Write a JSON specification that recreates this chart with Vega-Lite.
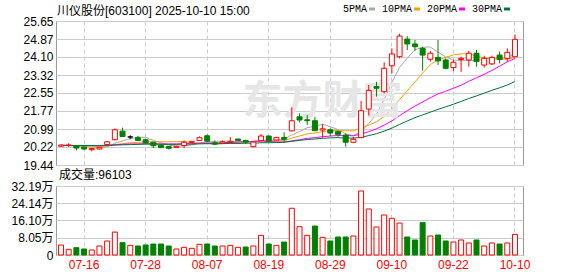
{
  "$schema": "https://vega.github.io/schema/vega-lite/v6.json",
  "padding": {"left": 5, "top": 4, "right": 0, "bottom": 0},
  "background": "white",
  "config": {
    "font": "Liberation Sans, Noto Sans CJK SC",
    "view": {"stroke": "#999999", "strokeWidth": 1},
    "axis": {"labelFont": "Liberation Sans", "labelFontSize": 12, "labelColor": "#000000", "gridColor": "#cccccc", "gridWidth": 1, "domain": false, "ticks": false, "title": null, "labelPadding": 3, "labelOverlap": false},
    "concat": {"spacing": -4}
  },
  "datasets": {
    "k": [
      {"d":"07-11","o":20.25,"h":20.33,"l":20.22,"c":20.30,"v":46600,"vd":"up","m5":20.29,"m10":20.28,"m20":20.29,"m30":20.28},
      {"d":"07-14","o":20.28,"h":20.38,"l":20.22,"c":20.30,"v":26400,"vd":"up","m5":20.29,"m10":20.28,"m20":20.29,"m30":20.28},
      {"d":"07-15","o":20.26,"h":20.28,"l":20.07,"c":20.17,"v":34200,"vd":"down","m5":20.26,"m10":20.27,"m20":20.28,"m30":20.28},
      {"d":"07-16","o":20.21,"h":20.23,"l":20.10,"c":20.13,"v":28000,"vd":"down","m5":20.24,"m10":20.26,"m20":20.28,"m30":20.28},
      {"d":"07-17","o":20.10,"h":20.17,"l":20.03,"c":20.15,"v":23300,"vd":"up","m5":20.21,"m10":20.25,"m20":20.28,"m30":20.28},
      {"d":"07-18","o":20.13,"h":20.22,"l":20.10,"c":20.20,"v":42000,"vd":"up","m5":20.19,"m10":20.24,"m20":20.27,"m30":20.28},
      {"d":"07-21","o":20.32,"h":20.47,"l":20.30,"c":20.44,"v":65300,"vd":"up","m5":20.22,"m10":20.26,"m20":20.28,"m30":20.29},
      {"d":"07-22","o":20.53,"h":21.02,"l":20.50,"c":20.96,"v":107000,"vd":"up","m5":20.38,"m10":20.32,"m20":20.31,"m30":20.30},
      {"d":"07-23","o":20.90,"h":21.05,"l":20.65,"c":20.67,"v":57500,"vd":"down","m5":20.48,"m10":20.36,"m20":20.33,"m30":20.31},
      {"d":"07-24","o":20.65,"h":20.72,"l":20.55,"c":20.65,"v":45000,"vd":"up","m5":20.58,"m10":20.40,"m20":20.35,"m30":20.32},
      {"d":"07-25","o":20.62,"h":20.70,"l":20.48,"c":20.50,"v":42000,"vd":"down","m5":20.64,"m10":20.42,"m20":20.35,"m30":20.33},
      {"d":"07-28","o":20.53,"h":20.58,"l":20.37,"c":20.39,"v":46600,"vd":"down","m5":20.63,"m10":20.43,"m20":20.36,"m30":20.34},
      {"d":"07-29","o":20.42,"h":20.44,"l":20.17,"c":20.27,"v":51300,"vd":"down","m5":20.50,"m10":20.44,"m20":20.36,"m30":20.34},
      {"d":"07-30","o":20.29,"h":20.33,"l":20.17,"c":20.19,"v":51300,"vd":"down","m5":20.40,"m10":20.44,"m20":20.35,"m30":20.33},
      {"d":"07-31","o":20.24,"h":20.26,"l":20.11,"c":20.16,"v":42000,"vd":"down","m5":20.30,"m10":20.44,"m20":20.35,"m30":20.33},
      {"d":"08-01","o":20.20,"h":20.27,"l":20.18,"c":20.25,"v":28000,"vd":"up","m5":20.25,"m10":20.45,"m20":20.35,"m30":20.33},
      {"d":"08-04","o":20.28,"h":20.50,"l":20.17,"c":20.42,"v":35800,"vd":"up","m5":20.26,"m10":20.45,"m20":20.36,"m30":20.34},
      {"d":"08-05","o":20.42,"h":20.48,"l":20.38,"c":20.46,"v":31000,"vd":"up","m5":20.30,"m10":20.40,"m20":20.36,"m30":20.34},
      {"d":"08-06","o":20.50,"h":20.67,"l":20.48,"c":20.62,"v":49800,"vd":"up","m5":20.38,"m10":20.39,"m20":20.38,"m30":20.35},
      {"d":"08-07","o":20.70,"h":20.76,"l":20.45,"c":20.47,"v":51300,"vd":"down","m5":20.44,"m10":20.37,"m20":20.39,"m30":20.36},
      {"d":"08-08","o":20.40,"h":20.50,"l":20.29,"c":20.34,"v":42000,"vd":"down","m5":20.46,"m10":20.36,"m20":20.39,"m30":20.35},
      {"d":"08-11","o":20.39,"h":20.50,"l":20.37,"c":20.44,"v":42000,"vd":"up","m5":20.47,"m10":20.37,"m20":20.40,"m30":20.36},
      {"d":"08-12","o":20.41,"h":20.64,"l":20.39,"c":20.46,"v":45000,"vd":"up","m5":20.47,"m10":20.39,"m20":20.42,"m30":20.37},
      {"d":"08-13","o":20.56,"h":20.57,"l":20.48,"c":20.50,"v":35800,"vd":"up","m5":20.44,"m10":20.41,"m20":20.43,"m30":20.37},
      {"d":"08-14","o":20.50,"h":20.53,"l":20.36,"c":20.43,"v":37300,"vd":"down","m5":20.43,"m10":20.44,"m20":20.44,"m30":20.38},
      {"d":"08-15","o":20.23,"h":20.45,"l":20.21,"c":20.43,"v":42000,"vd":"up","m5":20.45,"m10":20.46,"m20":20.46,"m30":20.38},
      {"d":"08-18","o":20.49,"h":20.78,"l":20.47,"c":20.69,"v":91800,"vd":"up","m5":20.50,"m10":20.49,"m20":20.47,"m30":20.40},
      {"d":"08-19","o":20.69,"h":20.71,"l":20.45,"c":20.47,"v":51300,"vd":"down","m5":20.50,"m10":20.49,"m20":20.45,"m30":20.40},
      {"d":"08-20","o":20.52,"h":20.65,"l":20.50,"c":20.63,"v":45000,"vd":"up","m5":20.53,"m10":20.49,"m20":20.44,"m30":20.41},
      {"d":"08-21","o":20.63,"h":20.85,"l":20.44,"c":20.55,"v":60600,"vd":"down","m5":20.55,"m10":20.49,"m20":20.43,"m30":20.42},
      {"d":"08-22","o":20.91,"h":21.93,"l":20.89,"c":21.35,"v":218000,"vd":"up","m5":20.74,"m10":20.60,"m20":20.48,"m30":20.46},
      {"d":"08-25","o":21.52,"h":21.67,"l":21.28,"c":21.38,"v":132000,"vd":"up","m5":20.88,"m10":20.69,"m20":20.53,"m30":20.50},
      {"d":"08-26","o":21.39,"h":21.60,"l":21.17,"c":21.35,"v":91800,"vd":"up","m5":21.05,"m10":20.78,"m20":20.59,"m30":20.54},
      {"d":"08-27","o":21.35,"h":21.52,"l":20.90,"c":20.92,"v":135000,"vd":"down","m5":21.11,"m10":20.82,"m20":20.62,"m30":20.56},
      {"d":"08-28","o":20.95,"h":21.20,"l":20.62,"c":21.00,"v":82400,"vd":"up","m5":21.20,"m10":20.88,"m20":20.66,"m30":20.59},
      {"d":"08-29","o":20.96,"h":21.02,"l":20.69,"c":20.82,"v":65300,"vd":"down","m5":21.09,"m10":20.92,"m20":20.69,"m30":20.61},
      {"d":"09-01","o":20.88,"h":20.92,"l":20.66,"c":20.76,"v":84000,"vd":"down","m5":20.97,"m10":20.93,"m20":20.71,"m30":20.62},
      {"d":"09-02","o":20.73,"h":20.80,"l":20.23,"c":20.42,"v":84000,"vd":"down","m5":20.78,"m10":20.92,"m20":20.71,"m30":20.60},
      {"d":"09-03","o":20.42,"h":20.65,"l":20.40,"c":20.55,"v":88600,"vd":"up","m5":20.71,"m10":20.91,"m20":20.70,"m30":20.60},
      {"d":"09-04","o":20.62,"h":22.20,"l":20.60,"c":21.78,"v":298600,"vd":"up","m5":20.87,"m10":21.04,"m20":20.77,"m30":20.63},
      {"d":"09-05","o":21.85,"h":22.89,"l":21.57,"c":22.66,"v":214600,"vd":"up","m5":21.23,"m10":21.16,"m20":20.88,"m30":20.71},
      {"d":"09-08","o":22.82,"h":23.03,"l":22.39,"c":22.75,"v":130600,"vd":"up","m5":21.63,"m10":21.30,"m20":21.00,"m30":20.79},
      {"d":"09-09","o":22.60,"h":23.87,"l":22.53,"c":23.61,"v":186600,"vd":"up","m5":22.27,"m10":21.53,"m20":21.16,"m30":20.90},
      {"d":"09-10","o":23.72,"h":24.47,"l":23.39,"c":24.23,"v":171000,"vd":"up","m5":23.01,"m10":21.86,"m20":21.34,"m30":21.03},
      {"d":"09-11","o":24.11,"h":25.10,"l":24.04,"c":25.00,"v":149000,"vd":"up","m5":23.65,"m10":22.26,"m20":21.57,"m30":21.19},
      {"d":"09-12","o":24.87,"h":25.00,"l":24.40,"c":24.66,"v":84000,"vd":"down","m5":24.05,"m10":22.64,"m20":21.78,"m30":21.34},
      {"d":"09-15","o":24.66,"h":24.83,"l":24.36,"c":24.54,"v":70000,"vd":"down","m5":24.41,"m10":23.02,"m20":21.98,"m30":21.48},
      {"d":"09-16","o":24.47,"h":24.54,"l":23.51,"c":24.18,"v":151000,"vd":"down","m5":24.52,"m10":23.40,"m20":22.16,"m30":21.60},
      {"d":"09-17","o":24.00,"h":24.36,"l":23.90,"c":24.26,"v":88600,"vd":"up","m5":24.53,"m10":23.77,"m20":22.34,"m30":21.72},
      {"d":"09-18","o":24.08,"h":24.83,"l":23.75,"c":23.93,"v":93300,"vd":"down","m5":24.31,"m10":23.98,"m20":22.51,"m30":21.84},
      {"d":"09-19","o":23.97,"h":24.04,"l":23.57,"c":23.61,"v":65300,"vd":"down","m5":24.10,"m10":24.08,"m20":22.62,"m30":21.95},
      {"d":"09-22","o":23.64,"h":23.97,"l":23.49,"c":23.87,"v":60600,"vd":"up","m5":23.97,"m10":24.19,"m20":22.75,"m30":22.06},
      {"d":"09-23","o":23.99,"h":24.11,"l":23.46,"c":24.04,"v":70000,"vd":"up","m5":23.94,"m10":24.23,"m20":22.88,"m30":22.18},
      {"d":"09-24","o":23.97,"h":24.36,"l":23.68,"c":24.26,"v":56000,"vd":"up","m5":23.94,"m10":24.24,"m20":23.05,"m30":22.31},
      {"d":"09-25","o":24.26,"h":24.40,"l":23.68,"c":23.90,"v":70000,"vd":"down","m5":23.94,"m10":24.13,"m20":23.20,"m30":22.42},
      {"d":"09-26","o":23.75,"h":24.15,"l":23.64,"c":24.04,"v":42000,"vd":"up","m5":24.02,"m10":24.06,"m20":23.35,"m30":22.54},
      {"d":"09-29","o":23.80,"h":24.15,"l":23.75,"c":24.08,"v":56000,"vd":"up","m5":24.06,"m10":24.02,"m20":23.52,"m30":22.66},
      {"d":"09-30","o":24.18,"h":24.33,"l":23.82,"c":23.99,"v":51300,"vd":"down","m5":24.05,"m10":24.00,"m20":23.70,"m30":22.77},
      {"d":"10-09","o":24.04,"h":24.47,"l":23.90,"c":24.30,"v":56000,"vd":"up","m5":24.06,"m10":24.00,"m20":23.89,"m30":22.89},
      {"d":"10-10","o":24.11,"h":25.07,"l":24.08,"c":24.86,"v":96103,"vd":"up","m5":24.25,"m10":24.10,"m20":24.04,"m30":23.04}
    ]
  },
  "vconcat": [
    {
      "width": 467,
      "height": 144,
      "title": {"text": "川仪股份[603100] 2025-10-10 15:00", "anchor": "start", "frame": "group", "fontSize": 12, "fontWeight": "normal", "font": "Liberation Sans, Noto Sans CJK SC", "color": "#000000", "offset": -3, "dx": 1},
      "data": {"name": "k"},
      "encoding": {
        "x": {
          "field": "d", "type": "ordinal", "sort": null,
          "scale": {"type": "band", "paddingInner": 0.35, "paddingOuter": 0.52, "align": 0.31},
          "axis": {"values": ["07-16","07-28","08-07","08-19","08-29","09-10","09-22","10-10"], "labels": false, "grid": true, "gridDash": [4, 3], "bandPosition": 0.5, "labelPadding": 0, "minExtent": 0, "maxExtent": 0}
        },
        "y": {
          "type": "quantitative",
          "scale": {"domain": [19.44, 25.65], "nice": false, "zero": false},
          "axis": {"values": [19.44, 20.22, 20.99, 21.77, 22.55, 23.32, 24.10, 24.87, 25.65], "format": ".2f", "grid": true, "minExtent": 50, "maxExtent": 50}
        }
      },
      "layer": [
        {
          "transform": [{"fold": ["m5", "m10", "m20", "m30"], "as": ["key", "val"]}],
          "mark": {"type": "line", "strokeWidth": 1},
          "encoding": {
            "y": {"field": "val"},
            "color": {
              "field": "key", "type": "nominal",
              "scale": {"domain": ["m5", "m10", "m20", "m30"], "range": ["#a8a8a8", "#f0a000", "#ff00ff", "#007040"]},
              "legend": {
                "orient": "none", "legendX": 311, "legendY": -17, "direction": "horizontal", "title": null,
                "symbolType": "stroke", "symbolSize": 36, "symbolStrokeWidth": 3,
                "labelAlign": "right", "labelOffset": -10, "columnPadding": 0,
                "labelFont": "Liberation Mono", "labelFontSize": 10, "labelColor": "#000000",
                "labelExpr": "{'m5':'5PMA','m10':'10PMA','m20':'20PMA','m30':'30PMA'}[datum.label]"
              }
            }
          }
        },
        {
          "transform": [{"filter": "datum.d == '08-28'"}],
          "mark": {"type": "text", "text": "东方财富", "font": "Noto Sans CJK SC", "fontSize": 40, "fontWeight": "bold", "color": "#e6e6e6", "align": "center", "baseline": "middle"},
          "encoding": {
            "y": {"datum": 22.15}
          }
        },
        {
          "mark": {"type": "rule", "strokeWidth": 1},
          "encoding": {
            "y": {"field": "l"},
            "y2": {"field": "h"},
            "color": {"condition": [{"test": "datum.c > datum.o", "value": "#ff0000"}, {"test": "datum.c < datum.o", "value": "#008000"}], "value": "#000000"}
          }
        },
        {
          "mark": {"type": "bar", "strokeWidth": 1},
          "encoding": {
            "y": {"field": "o"},
            "y2": {"field": "c"},
            "fill": {"condition": [{"test": "datum.c > datum.o", "value": "#ffffff"}, {"test": "datum.c < datum.o", "value": "#008000"}], "value": "#000000"},
            "stroke": {"condition": [{"test": "datum.c > datum.o", "value": "#ff0000"}, {"test": "datum.c < datum.o", "value": "#008000"}], "value": "#000000"}
          }
        }
      ]
    },
    {
      "width": 467,
      "height": 69,
      "title": {"text": "成交量:96103", "anchor": "start", "frame": "group", "fontSize": 12, "fontWeight": "normal", "font": "Liberation Sans, Noto Sans CJK SC", "color": "#000000", "offset": -2, "dx": 3},
      "data": {"name": "k"},
      "mark": {"type": "bar", "strokeWidth": 1},
      "encoding": {
        "x": {
          "field": "d", "type": "ordinal", "sort": null,
          "scale": {"type": "band", "paddingInner": 0.35, "paddingOuter": 0.52, "align": 0.31},
          "axis": {"values": ["07-16","07-28","08-07","08-19","08-29","09-10","09-22","10-10"], "labelColor": "#ff0000", "labelAngle": 0, "labelPadding": 4, "grid": true, "gridDash": [4, 3], "bandPosition": 0.5}
        },
        "y": {
          "field": "v", "type": "quantitative",
          "scale": {"domain": [0, 321900], "nice": false},
          "axis": {"values": [0, 80500, 161000, 241400, 321900], "labelExpr": "datum.value == 0 ? '0' : format(datum.value / 10000, '.2f') + '万'", "grid": true, "minExtent": 50, "maxExtent": 50, "labelFont": "Liberation Sans, Noto Sans CJK SC"}
        },
        "fill": {"condition": {"test": "datum.vd == 'up'", "value": "#ffffff"}, "value": "#008000"},
        "stroke": {"condition": {"test": "datum.vd == 'up'", "value": "#ff0000"}, "value": "#008000"}
      }
    }
  ]
}
